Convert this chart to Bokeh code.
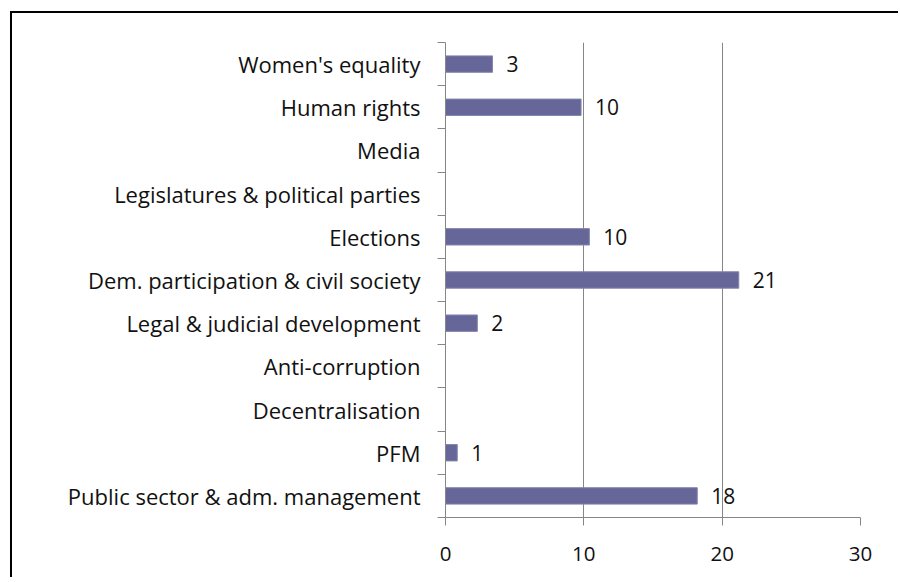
from bokeh.plotting import figure
from bokeh.models import FixedTicker, ColumnDataSource
from bokeh.core.properties import value
from bokeh.embed import file_html
from bokeh.resources import INLINE

# data (top to bottom as shown)
categories = [
    "Women's equality",
    "Human rights",
    "Media",
    "Legislatures & political parties",
    "Elections",
    "Dem. participation & civil society",
    "Legal & judicial development",
    "Anti-corruption",
    "Decentralisation",
    "PFM",
    "Public sector & adm. management",
]
values = [3.4, 9.8, 0, 0, 10.4, 21.2, 2.3, 0, 0, 0.85, 18.2]
x_ticks = [0, 10, 20, 30]

FONT = "Open Sans"
TEXT_COLOR = "#111111"
AXIS_COLOR = "#868686"
BAR_COLOR = "#666699"

n = len(categories)
ys = [n - i - 0.5 for i in range(n)]
bars = ColumnDataSource(dict(
    y=[y for y, v in zip(ys, values) if v > 0],
    v=[v for v in values if v > 0],
    lab=[f"{v:.0f}" for v in values if v > 0],
))

W, H = 888, 566
p = figure(width=W, height=H, x_range=(0, 30), y_range=(0, n),
           output_backend="svg", toolbar_location=None,
           min_border_left=433, min_border_top=29,
           min_border_right=W - 433 - 415, min_border_bottom=H - 29 - 475)
p.styles = {"border-left": "2px solid black", "border-top": "2px solid black",
            "margin-left": "10px", "margin-top": "11px"}
p.outline_line_color = None
p.background_fill_color = "white"
p.border_fill_color = "white"

p.hbar(y="y", right="v", left=0, height=0.38, source=bars,
       fill_color=BAR_COLOR, line_color="#8585b0", line_width=1)
p.text(x="v", y="y", text="lab", source=bars, x_offset=14,
       text_align="left", text_baseline="middle",
       text_font=value(FONT), text_font_size="21px", text_color=TEXT_COLOR)

xa = p.xaxis[0]
xa.ticker = FixedTicker(ticks=x_ticks)
xa.axis_line_color = AXIS_COLOR
xa.major_tick_line_color = AXIS_COLOR
xa.major_tick_out = 8
xa.major_tick_in = 0
xa.minor_tick_line_color = None
xa.major_label_standoff = 21
xa.major_label_text_font = FONT
xa.major_label_text_font_size = "20.5px"
xa.major_label_text_color = TEXT_COLOR

ya = p.yaxis[0]
ya.ticker = FixedTicker(ticks=ys, minor_ticks=list(range(n + 1)))
ya.major_label_overrides = {y: c for y, c in zip(ys, categories)}
ya.axis_line_color = AXIS_COLOR
ya.major_tick_line_color = None
ya.major_tick_out = 0
ya.major_tick_in = 0
ya.minor_tick_line_color = AXIS_COLOR
ya.minor_tick_out = 8
ya.minor_tick_in = 0
ya.major_label_standoff = 17
ya.major_label_text_font = FONT
ya.major_label_text_font_size = "22px"
ya.major_label_text_color = TEXT_COLOR

p.xgrid.grid_line_color = AXIS_COLOR
p.xgrid.grid_line_width = 1
p.ygrid.grid_line_color = None

open("out.html", "w").write(file_html(p, INLINE))
